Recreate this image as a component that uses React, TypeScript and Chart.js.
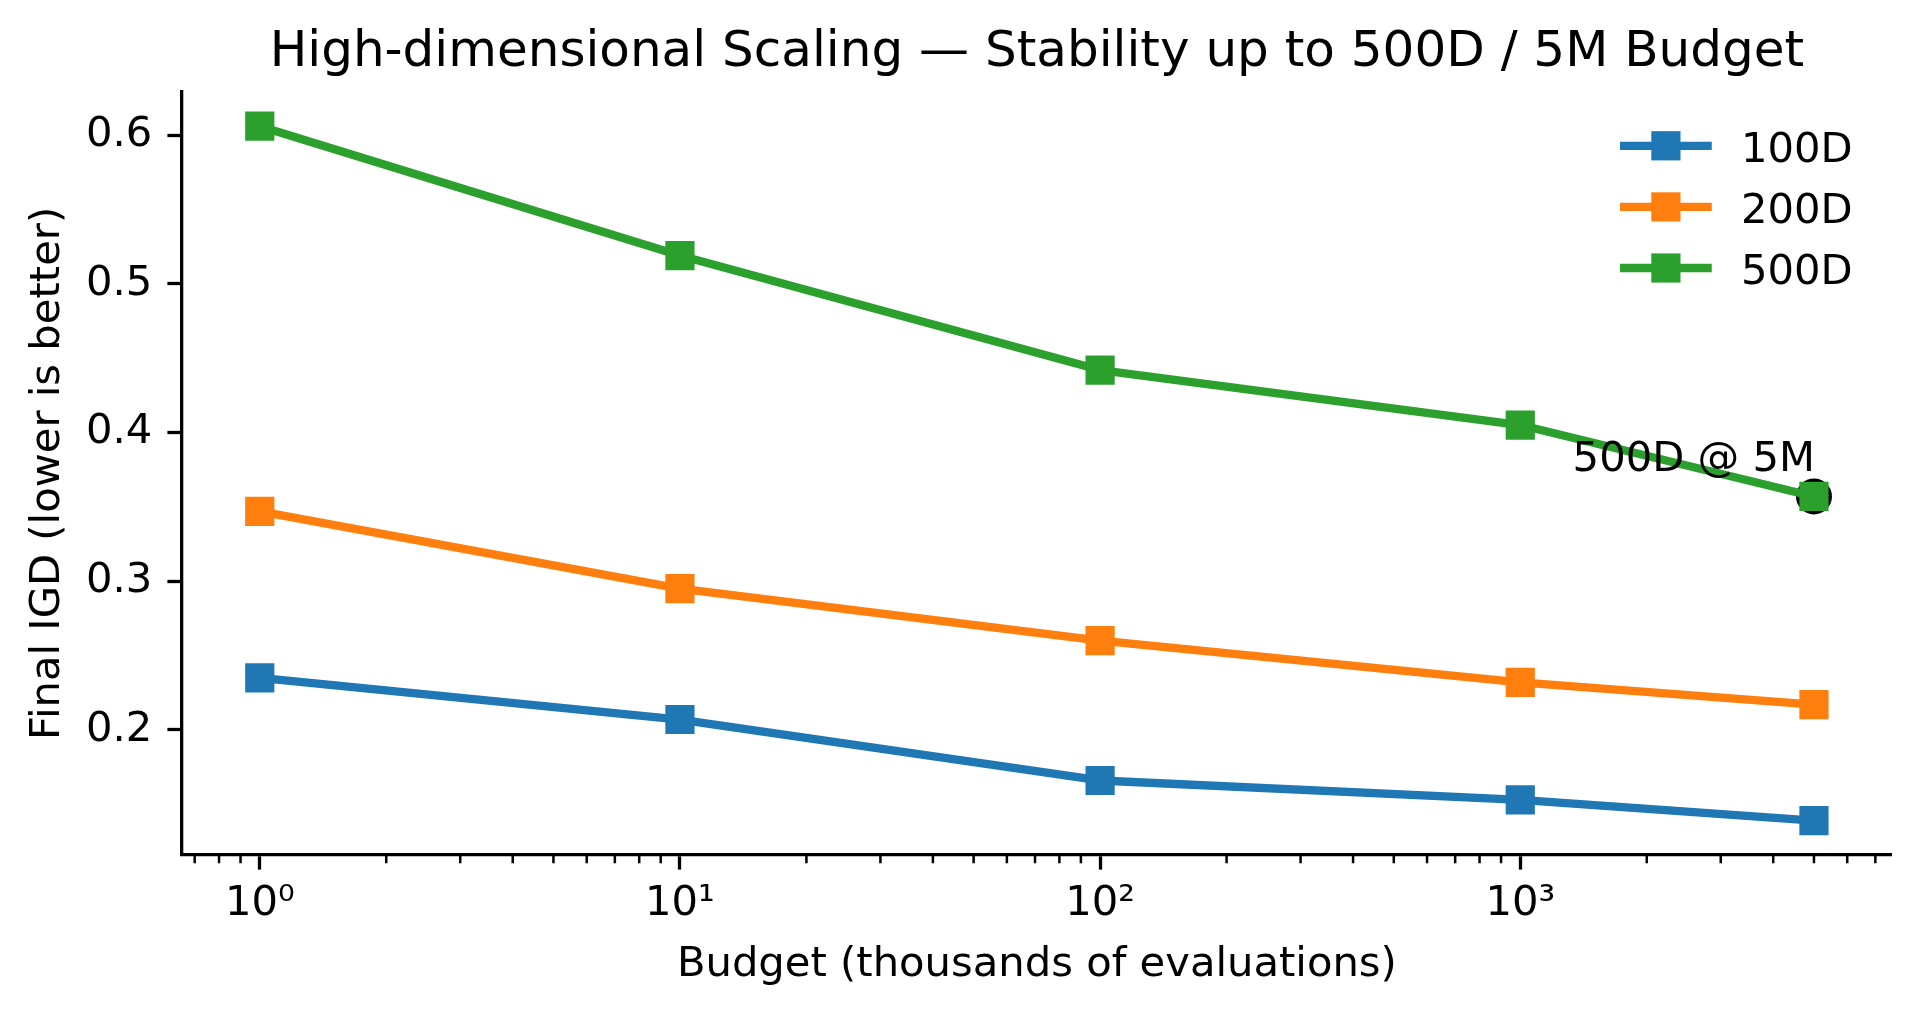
import { useEffect, useRef } from 'react';
import { Chart, registerables } from 'chart.js';

Chart.register(...registerables);

// ---- data ----
const BUDGETS = [1, 10, 100, 1000, 5000];
const IGD_100D = [0.235, 0.207, 0.166, 0.153, 0.139];
const IGD_200D = [0.347, 0.295, 0.26, 0.232, 0.217];
const IGD_500D = [0.606, 0.519, 0.442, 0.405, 0.357];
const SERIES_LABELS = ['100D', '200D', '500D'];
const SERIES_COLORS = ['#1f77b4', '#ff7f0e', '#2ca02c'];

const Y_TICKS = [0.2, 0.3, 0.4, 0.5, 0.6];
const X_MAJOR_TICKS = [1, 10, 100, 1000];
const X_MAJOR_LABELS = ['10⁰', '10¹', '10²', '10³'];
const X_MINOR_TICKS = [
  0.7, 0.8, 0.9,
  2, 3, 4, 5, 6, 7, 8, 9,
  20, 30, 40, 50, 60, 70, 80, 90,
  200, 300, 400, 500, 600, 700, 800, 900,
  2000, 3000, 4000, 5000, 6000, 7000,
];
const X_MIN = 0.653;
const X_MAX = 7656;
const Y_MIN = 0.1159;
const Y_MAX = 0.6291;

const ANNOTATION_TEXT = '500D @ 5M';
const ANNOTATION_X = 5000;
const ANNOTATION_Y = 0.357;

const TITLE = 'High-dimensional Scaling — Stability up to 500D / 5M Budget';
const X_TITLE = 'Budget (thousands of evaluations)';
const Y_TITLE = 'Final IGD (lower is better)';

// ---- styles ----
const FONT = 'DejaVu Sans';
const FS = 41.7; // 10pt @ 300dpi
const LINE_W = 8.33;
const MARKER_R = 20.65; // rect side = 29.2
const SPINE_W = 3.3;
const MAJOR_TICK_LEN = 14.6;
const MINOR_TICK_LEN = 8.3;

const extrasPlugin = {
  id: 'extras',
  afterDatasetsDraw(chart: any) {
    const { ctx } = chart;
    const xs = chart.scales.x;
    const ys = chart.scales.y;
    ctx.save();
    const px = xs.getPixelForValue(ANNOTATION_X);
    const py = ys.getPixelForValue(ANNOTATION_Y);
    ctx.fillStyle = '#000';
    ctx.font = `${FS}px "${FONT}"`;
    ctx.textAlign = 'right';
    ctx.textBaseline = 'alphabetic';
    ctx.fillText(ANNOTATION_TEXT, px + 1, py - 25);
    ctx.restore();
  },
  afterDraw(chart: any) {
    const { ctx } = chart;
    const xs = chart.scales.x;
    ctx.save();
    ctx.strokeStyle = '#000';
    ctx.lineWidth = 2.5;
    ctx.beginPath();
    for (const v of X_MINOR_TICKS) {
      const p = xs.getPixelForValue(v);
      ctx.moveTo(p, xs.top);
      ctx.lineTo(p, xs.top + MINOR_TICK_LEN);
    }
    ctx.stroke();

    // legend
    const lx0 = 1624.2;
    const lx1 = 1707.6;
    const mx = (lx0 + lx1) / 2;
    const side = MARKER_R * Math.SQRT1_2 * 2;
    for (let i = 0; i < SERIES_LABELS.length; i++) {
      const ds = chart.data.datasets[i];
      const cy = 145.8 + i * 61.1;
      ctx.strokeStyle = ds.borderColor;
      ctx.lineWidth = LINE_W;
      ctx.lineCap = 'square';
      ctx.beginPath();
      ctx.moveTo(lx0, cy);
      ctx.lineTo(lx1, cy);
      ctx.stroke();
      ctx.fillStyle = ds.borderColor;
      ctx.fillRect(mx - side / 2, cy - side / 2, side, side);
      ctx.fillStyle = '#000';
      ctx.font = `${FS}px "${FONT}"`;
      ctx.textAlign = 'left';
      ctx.textBaseline = 'alphabetic';
      ctx.fillText(ds.label, 1741, 161.7 + i * 61.1);
    }
    ctx.restore();
  },
};

export default function App() {
  const ref = useRef<HTMLCanvasElement>(null);

  useEffect(() => {
    document.body.style.margin = '0';
    const series = [IGD_100D, IGD_200D, IGD_500D];
    const datasets: any[] = series.map((vals, si) => ({
      label: SERIES_LABELS[si],
      data: BUDGETS.map((b, i) => ({ x: b, y: vals[i] })),
      borderColor: SERIES_COLORS[si],
      backgroundColor: SERIES_COLORS[si],
      pointBackgroundColor: SERIES_COLORS[si],
      pointBorderWidth: 0,
      pointStyle: 'rect',
      pointRadius: MARKER_R,
      borderWidth: LINE_W,
      borderJoinStyle: 'round',
      tension: 0,
    }));
    datasets.push({
      label: 'annotation',
      data: [{ x: ANNOTATION_X, y: ANNOTATION_Y }],
      showLine: false,
      pointStyle: 'circle',
      pointRadius: 18,
      pointBackgroundColor: '#000',
      pointBorderWidth: 0,
      borderColor: '#000',
      backgroundColor: '#000',
    });

    const chart = new Chart(ref.current!, {
      type: 'line',
      data: { datasets },
      options: {
        animation: false,
        responsive: false,
        events: [],
        layout: { padding: { top: 0, left: 0, right: 28.3, bottom: 0 } },
        plugins: {
          legend: { display: false },
          tooltip: { enabled: false },
          title: {
            display: true,
            text: TITLE,
            fullSize: false,
            color: '#000',
            font: { family: FONT, size: 50, weight: 'normal' as any },
            padding: { top: 23.5, bottom: 8.3 },
          },
        },
        scales: {
          x: {
            type: 'logarithmic',
            min: X_MIN,
            max: X_MAX,
            afterBuildTicks: (scale: any) => {
              const t = [
                ...X_MAJOR_TICKS.map((v) => ({ value: v, major: true })),
                ...X_MINOR_TICKS.map((v) => ({ value: v, major: false })),
              ];
              t.sort((a, b) => a.value - b.value);
              scale.ticks = t;
            },
            afterFit: (scale: any) => {
              scale.height = 158;
            },
            ticks: {
              autoSkip: false,
              maxRotation: 0,
              minRotation: 0,
              padding: 10,
              color: '#000',
              font: { family: FONT, size: FS },
              callback: (value: any) => {
                const i = X_MAJOR_TICKS.indexOf(Number(value));
                return i >= 0 ? X_MAJOR_LABELS[i] : '';
              },
            },
            grid: {
              display: true,
              drawOnChartArea: false,
              drawTicks: true,
              tickLength: MAJOR_TICK_LEN,
              tickWidth: SPINE_W,
              tickColor: (ctx: any) => (ctx.tick && ctx.tick.major ? '#000' : 'rgba(0,0,0,0)'),
            },
            border: { display: true, color: '#000', width: SPINE_W },
            title: {
              display: true,
              text: X_TITLE,
              color: '#000',
              font: { family: FONT, size: FS },
              padding: { top: 0, bottom: 23 },
            },
          },
          y: {
            type: 'linear',
            min: Y_MIN,
            max: Y_MAX,
            afterBuildTicks: (scale: any) => {
              scale.ticks = Y_TICKS.map((v) => ({ value: v }));
            },
            afterFit: (scale: any) => {
              scale.width = 182;
            },
            ticks: {
              autoSkip: false,
              padding: 15.1,
              color: '#000',
              font: { family: FONT, size: FS },
              callback: (value: any) => Number(value).toFixed(1),
            },
            grid: {
              display: true,
              drawOnChartArea: false,
              drawTicks: true,
              tickLength: MAJOR_TICK_LEN,
              tickWidth: SPINE_W,
              tickColor: '#000',
            },
            border: { display: true, color: '#000', width: SPINE_W },
            title: {
              display: true,
              text: Y_TITLE,
              color: '#000',
              font: { family: FONT, size: FS },
              padding: { top: 23.5, bottom: 0 },
            },
          },
        },
      },
      plugins: [extrasPlugin],
    } as any);
    return () => chart.destroy();
  }, []);

  return (
    <div style={{ width: 1920, height: 1013, position: 'relative' }}>
      <canvas ref={ref} width={1920} height={1013} style={{ display: 'block', width: 1920, height: 1013 }} />
    </div>
  );
}
